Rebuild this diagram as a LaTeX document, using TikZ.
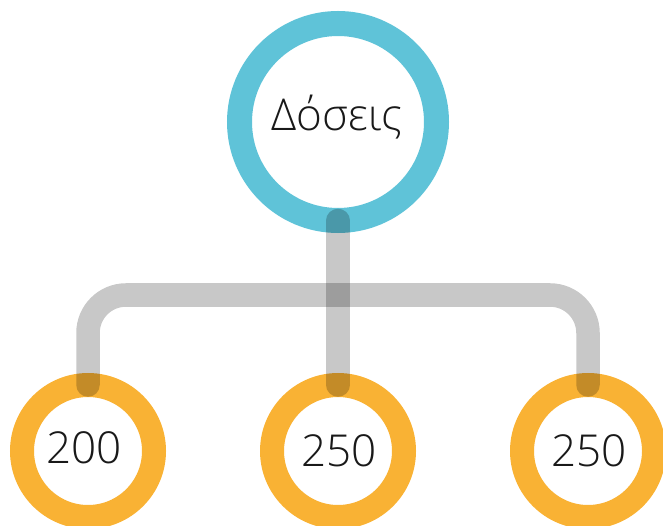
\documentclass[tikz,border=0pt]{standalone}
\usepackage{fontspec}
\setmainfont{Open Sans Light}
\begin{document}
\begin{tikzpicture}[x=1pt,y=-1pt,
  ring/.style={circle,draw,inner sep=0pt,outer sep=0pt,fill=white},
  topring/.style={ring,draw=topblue,line width=25pt,minimum size=197pt},
  leafring/.style={ring,draw=leaforange,line width=24pt,minimum size=132pt},
  lbl/.style={font=\fontsize{44}{44}\selectfont,text=black!90},
  conn/.style={draw=black,opacity=0.215,line width=23.5pt,line cap=round}]
\definecolor{topblue}{HTML}{5FC3D8}
\definecolor{leaforange}{HTML}{F9B234}
\useasboundingbox (0,0) rectangle (663,526);
\node[topring] (top) at (338,122) {};
\node[lbl] (toplbl) at (337,117) {Δόσεις};
\node[leafring] (l) at (88,451) {};
\node[leafring] (m) at (338,451) {};
\node[leafring] (r) at (588,451) {};
\node[lbl] (llbl) at (84,448) {200};
\node[lbl] (mlbl) at (339,451) {250};
\node[lbl] (rlbl) at (589,451) {250};
\coordinate (hb) at (338,295);
\draw[conn,rounded corners=38pt] (l.north) |- (hb) -| (r.north);
\draw[conn] (top.south) -- (m.north);
\end{tikzpicture}
\end{document}
